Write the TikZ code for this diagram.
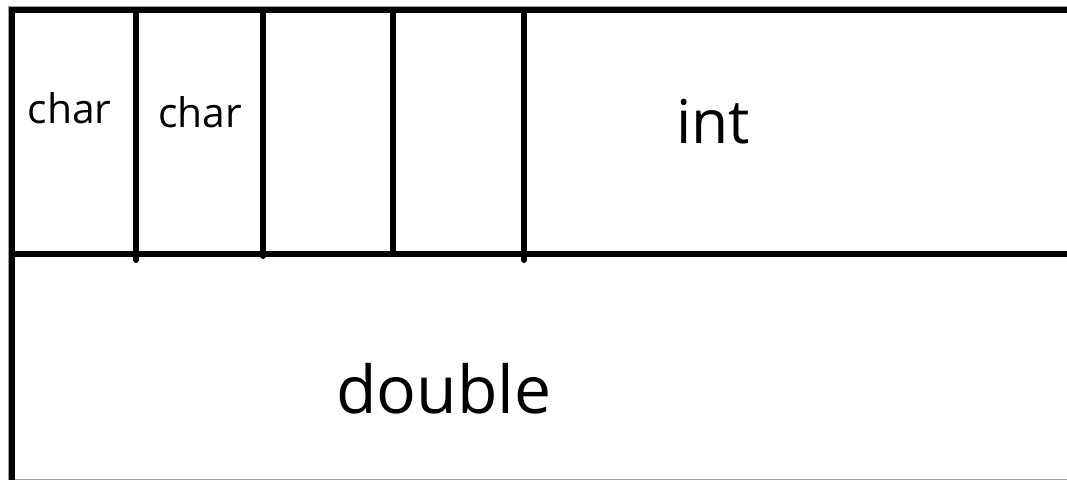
\documentclass[tikz,border=0pt]{standalone}
\usepackage{fontspec}
\setmainfont{Open Sans}
\usepackage{xcolor}
\usepackage{tikz}
\definecolor{ink}{HTML}{000000}
\definecolor{edge}{HTML}{A0A0A0}

\begin{document}
\begin{tikzpicture}[x=0.025cm,y=-0.025cm,
    wall/.style={ink,line width=4.27pt},
    small/.style={anchor=base,inner sep=0pt,font=\fontsize{29}{32}\selectfont},
    mid/.style={anchor=base,inner sep=0pt,font=\fontsize{43}{46}\selectfont},
    big/.style={anchor=base,inner sep=0pt,font=\fontsize{47}{50}\selectfont}]
  \useasboundingbox (0,0) rectangle (1067,480);
  % screenshot edge
  \draw[edge,line width=0.7pt] (8,480)--(8,6)--(1067,6);
  \draw[edge,line width=0.7pt] (8,479)--(1067,479);
  % outer walls
  \draw[wall] (12,480)--(12,10)--(1067,10);
  \draw[wall] (12,253.5)--(1067,253.5);
  % cell walls
  \foreach \x/\yb in {136/260,263/256,393/253.5,524/260}
    \draw[wall,line cap=round] (\x,10)--(\x,\yb);
  \node[small] (charA) at (69.5,123) {char};
  \node[small] (charB) at (200,127) {char};
  \node[mid] (intCell) at (713,143) {int};
  \node[big] (dblCell) at (444,413) {double};
\end{tikzpicture}
\end{document}
